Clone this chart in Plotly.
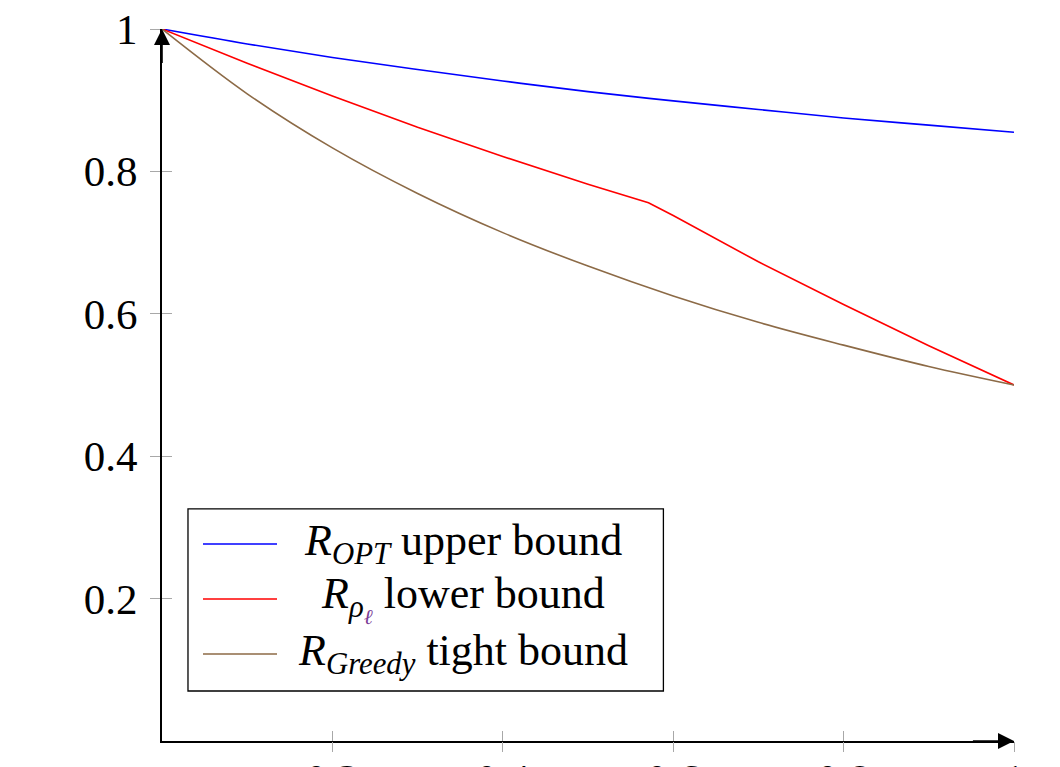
import plotly.graph_objects as go

# ---- data ----
x_smooth = [0.0, 0.1, 0.2, 0.3, 0.4, 0.5, 0.6, 0.7, 0.8, 0.9, 1.0]
r_opt_upper = [1.0, 0.979, 0.960, 0.943, 0.927, 0.912, 0.899, 0.887, 0.875, 0.865, 0.855]
r_greedy_tight = [1.0, 0.909, 0.833, 0.769, 0.714, 0.667, 0.625, 0.588, 0.556, 0.526, 0.500]

x_rho = [0.0, 0.1, 0.2, 0.3, 0.4, 0.5, 0.571, 0.6, 0.7, 0.8, 0.9, 1.0]
r_rho_lower = [1.0, 0.952, 0.906, 0.862, 0.821, 0.782, 0.756, 0.738, 0.673, 0.613, 0.555, 0.500]

tick_vals = [0.2, 0.4, 0.6, 0.8, 1.0]
tick_text = ["0.2", "0.4", "0.6", "0.8", "1"]

series_names = [
    "<i>R</i><sub><i>OPT</i></sub> upper bound",
    "<i>R</i><sub><i>ρ</i><sub><span style='color:#7a3c96'><i>ℓ</i></span></sub></sub> lower bound",
    "<i>R</i><sub><i>Greedy</i></sub> tight bound",
]
series_colors = ["#0000ff", "#ff0000", "#8c6a46"]

FONT = "Liberation Serif"

fig = go.Figure()
fig.add_trace(go.Scatter(x=x_smooth, y=r_opt_upper, mode="lines", line=dict(color=series_colors[0], width=1.6, shape="spline"),
                         name="R_OPT upper bound", showlegend=False))
fig.add_trace(go.Scatter(x=x_rho, y=r_rho_lower, mode="lines", line=dict(color=series_colors[1], width=1.6),
                         name="R_rho lower bound", showlegend=False))
fig.add_trace(go.Scatter(x=x_smooth, y=r_greedy_tight, mode="lines", line=dict(color=series_colors[2], width=1.6, shape="spline"),
                         name="R_Greedy tight bound", showlegend=False))
# invisible traces hosting overlay axes (the two halves of the crossing ticks)
fig.add_trace(go.Scatter(x=[None], y=[None], xaxis="x2", yaxis="y2", showlegend=False, hoverinfo="skip"))
fig.add_trace(go.Scatter(x=[None], y=[None], xaxis="x3", yaxis="y", showlegend=False, hoverinfo="skip"))

axis_common = dict(range=[0, 1], showgrid=False, zeroline=False, tickvals=tick_vals, ticktext=tick_text,
                   tickcolor="#a8a8a8", tickwidth=1, ticklen=10)

fig.update_layout(
    width=1060, height=767,
    margin=dict(l=154, r=54, t=21, b=34, autoexpand=False),
    paper_bgcolor="white", plot_bgcolor="white",
    font=dict(family=FONT, size=43, color="black"),
    xaxis=dict(range=[0, 1], showgrid=False, zeroline=False, tickvals=tick_vals, ticktext=tick_text,
               ticks="", showline=True, linecolor="black", linewidth=1.6,
               tickfont=dict(family=FONT, size=43), ticklabelstandoff=0, ticklabeloverflow="allow"),
    yaxis=dict(**axis_common, ticks="outside", showline=True, linecolor="black", linewidth=1.6,
               tickfont=dict(family=FONT, size=43), ticklabelstandoff=4, ticklabeloverflow="allow"),
    xaxis2=dict(**axis_common, ticks="inside", overlaying="x", showticklabels=False, showline=False),
    xaxis3=dict(**axis_common, ticks="outside", overlaying="x", showticklabels=False, showline=False),
    yaxis2=dict(**axis_common, ticks="inside", overlaying="y", showticklabels=False, showline=False),
    showlegend=False,
)

# axis arrowheads
fig.add_annotation(x=0, y=1, ax=0, ay=0.95, xref="x", yref="y", axref="x", ayref="y", text="",
                   showarrow=True, arrowhead=2, arrowsize=2, arrowwidth=1.6, arrowcolor="black")
fig.add_annotation(x=1, y=0, ax=0.95, ay=0, xref="x", yref="y", axref="x", ayref="y", text="",
                   showarrow=True, arrowhead=2, arrowsize=2, arrowwidth=1.6, arrowcolor="black")

# legend box (built to match the centred legend of the reference)
box_x0, box_x1, box_y0, box_y1 = 0.0305, 0.5885, 0.0702, 0.326
row_y = [0.2767, 0.1994, 0.1222]
fig.add_shape(type="rect", xref="paper", yref="paper", x0=box_x0, x1=box_x1, y0=box_y0, y1=box_y1,
              line=dict(color="black", width=1.3), fillcolor="white", layer="above")
for name, color, ry in zip(series_names, series_colors, row_y):
    fig.add_shape(type="line", xref="paper", yref="paper", x0=0.0481, x1=0.135, y0=ry, y1=ry,
                  line=dict(color=color, width=1.6), layer="above")
    fig.add_annotation(x=0.3533, y=ry, xref="paper", yref="paper", text=name, showarrow=False,
                       xanchor="center", yanchor="middle", font=dict(family=FONT, size=44, color="black"))

fig.write_html("out.html")
